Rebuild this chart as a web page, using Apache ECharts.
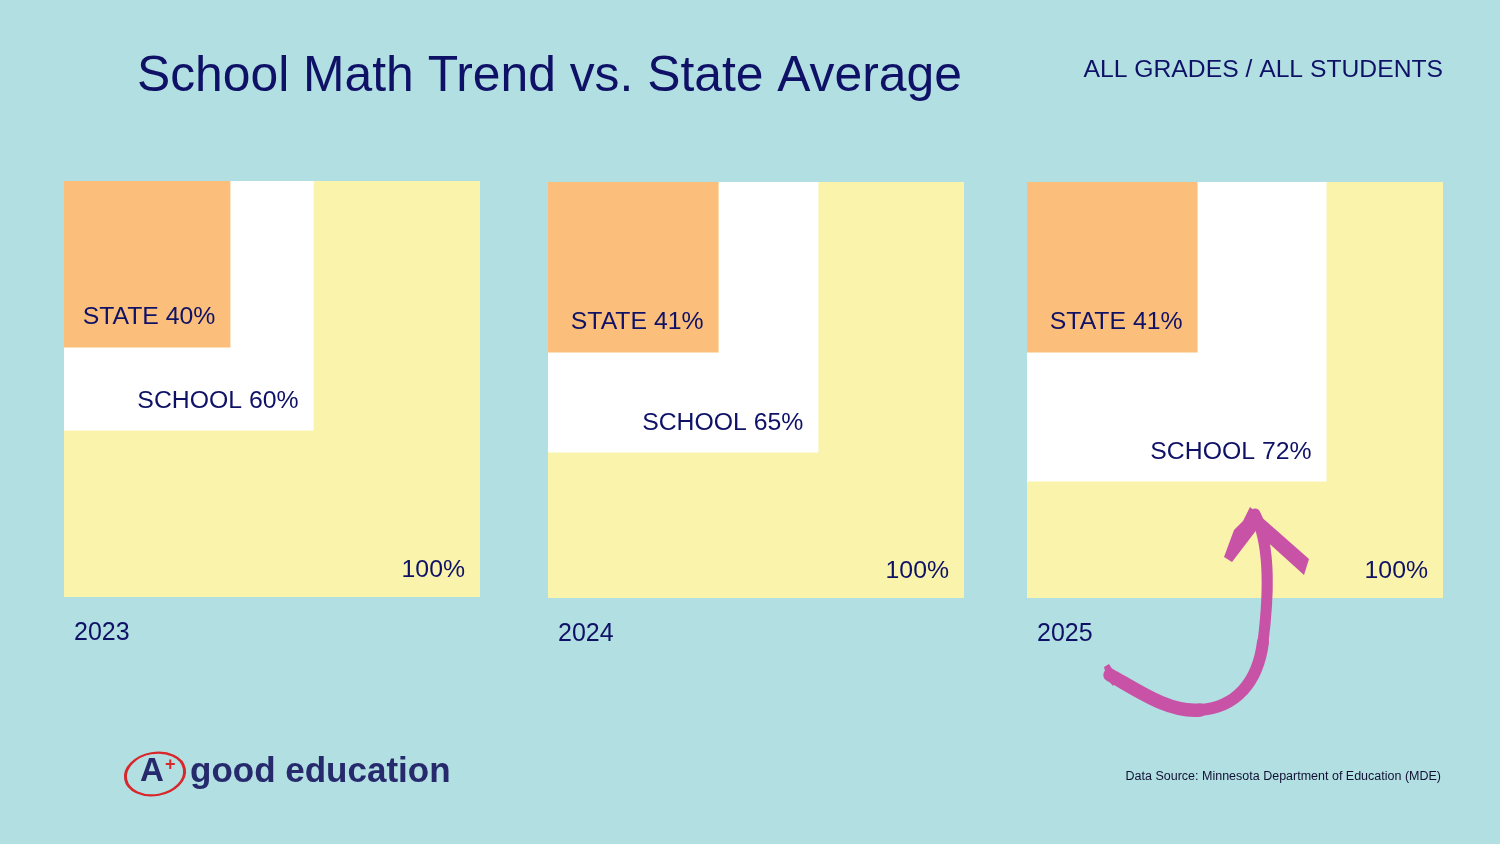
<!DOCTYPE html>
<html>
<head>
<meta charset="utf-8">
<script src="https://cdn.jsdelivr.net/npm/echarts@6/dist/echarts.min.js"></script>
<style>
  html, body { margin: 0; padding: 0; background: #b2dfe2; }
  #chart { width: 1500px; height: 844px; }
</style>
</head>
<body>
<div id="chart"></div>
<script>
const years = ['2023', '2024', '2025'];
const schoolPct = [60, 65, 72];
const statePct = [40, 41, 41];
const totalPct = [100, 100, 100];
const labelNames = ['', 'SCHOOL', 'STATE'];

const NAVY = '#0e1166';
const FILLS = ['#f9f3ac', '#ffffff', '#fbbf7b'];
const LABEL_OFFSET = [26.5, 29.5, 30.5];
const FAMILY = "'Liberation Sans', Arial, Helvetica, sans-serif";

const grids = [
  { left: 64, top: 181, width: 416, height: 416 },
  { left: 548, top: 182, width: 416, height: 416 },
  { left: 1027, top: 182, width: 416, height: 416 }
];

const xAxes = grids.map((g, i) => ({ type: 'value', gridIndex: i, min: 0, max: 100, show: false }));
const yAxes = grids.map((g, i) => ({ type: 'value', gridIndex: i, min: 0, max: 100, inverse: true, show: false }));

function txt(text, x, y, align, size, color, weight) {
  return {
    type: 'text',
    style: {
      text: text, x: x, y: y, align: align, verticalAlign: 'middle',
      fill: color, fontFamily: FAMILY, fontSize: size, fontWeight: weight || 'normal'
    }
  };
}

const series = years.map((yr, i) => ({
  type: 'custom',
  xAxisIndex: i,
  yAxisIndex: i,
  silent: true,
  z: 2,
  data: [[totalPct[i], 0], [schoolPct[i], 1], [statePct[i], 2]],
  renderItem: function (params, api) {
    const v = api.value(0);
    const k = api.value(1);
    const p0 = api.coord([0, 0]);
    const p1 = api.coord([v, v]);
    const text = (labelNames[k] ? labelNames[k] + ' ' : '') + v + '%';
    const children = [
      {
        type: 'rect',
        shape: { x: p0[0], y: p0[1], width: p1[0] - p0[0], height: p1[1] - p0[1] },
        style: { fill: FILLS[k] }
      },
      txt(text, p1[0] - 15, p1[1] - LABEL_OFFSET[k], 'right', 24.8, NAVY)
    ];
    if (k === 0) {
      children.push(txt(years[i], p0[0] + 10, p1[1] + 36, 'left', 25, NAVY));
    }
    return { type: 'group', children: children };
  }
}));

const ARROW = '#c852a6';

function gtext(text, x, y, align, size, color, weight) {
  return {
    type: 'text', x: x, y: y, z: 100,
    style: {
      text: text, align: align, verticalAlign: 'middle',
      fill: color, fontFamily: FAMILY, fontSize: size, fontWeight: weight || 'normal'
    }
  };
}

function curve(x1, y1, cx1, cy1, cx2, cy2, x2, y2, w) {
  return {
    type: 'bezierCurve', z: 100,
    shape: { x1: x1, y1: y1, cpx1: cx1, cpy1: cy1, cpx2: cx2, cpy2: cy2, x2: x2, y2: y2 },
    style: { fill: null, stroke: ARROW, lineWidth: w, lineCap: 'round' }
  };
}

const option = {
  backgroundColor: '#b2dfe2',
  animation: false,
  grid: grids.map(g => Object.assign({ containLabel: false, show: false }, g)),
  xAxis: xAxes,
  yAxis: yAxes,
  series: series,
  graphic: [
    gtext('School Math Trend vs. State Average', 137, 77, 'left', 49.8, NAVY),
    gtext('ALL GRADES / ALL STUDENTS', 1443, 70, 'right', 24.7, NAVY),
    gtext('Data Source: Minnesota Department of Education (MDE)', 1441, 777, 'right', 12.5, '#111133'),
    gtext('good education', 190, 772, 'left', 35, '#262a6c', 'bold'),
    gtext('A', 140, 772, 'left', 33, '#262a6c', 'bold'),
    gtext('+', 165, 765, 'left', 18, '#d8262a', 'bold'),
    {
      type: 'circle', z: 100,
      x: 155, y: 774, rotation: 0.18, scaleX: 1.42, scaleY: 1,
      shape: { cx: 0, cy: 0, r: 21 },
      style: { fill: null, stroke: '#d8262a', lineWidth: 2.5, strokeNoScale: true }
    },
    curve(1110, 675, 1140, 692, 1170, 713, 1200, 710, 13.5),
    curve(1199, 710, 1236, 708, 1258, 682, 1263, 642, 12),
    curve(1263, 642, 1268, 602, 1272, 548, 1255, 514, 11),
    {
      type: 'polygon', z: 100,
      shape: { points: [[1250, 507], [1309, 559], [1304, 575], [1262, 537], [1258, 528], [1232, 562], [1224, 557], [1234, 530], [1238, 526], [1243, 521]] },
      style: { fill: ARROW }
    },
    {
      type: 'polygon', z: 100,
      shape: { points: [[1104, 667], [1109, 664], [1118, 678], [1113, 686], [1107, 679]] },
      style: { fill: ARROW }
    }
  ]
};

const chart = echarts.init(document.getElementById('chart'), null, { renderer: 'canvas' });
chart.setOption(option);
</script>
</body>
</html>
